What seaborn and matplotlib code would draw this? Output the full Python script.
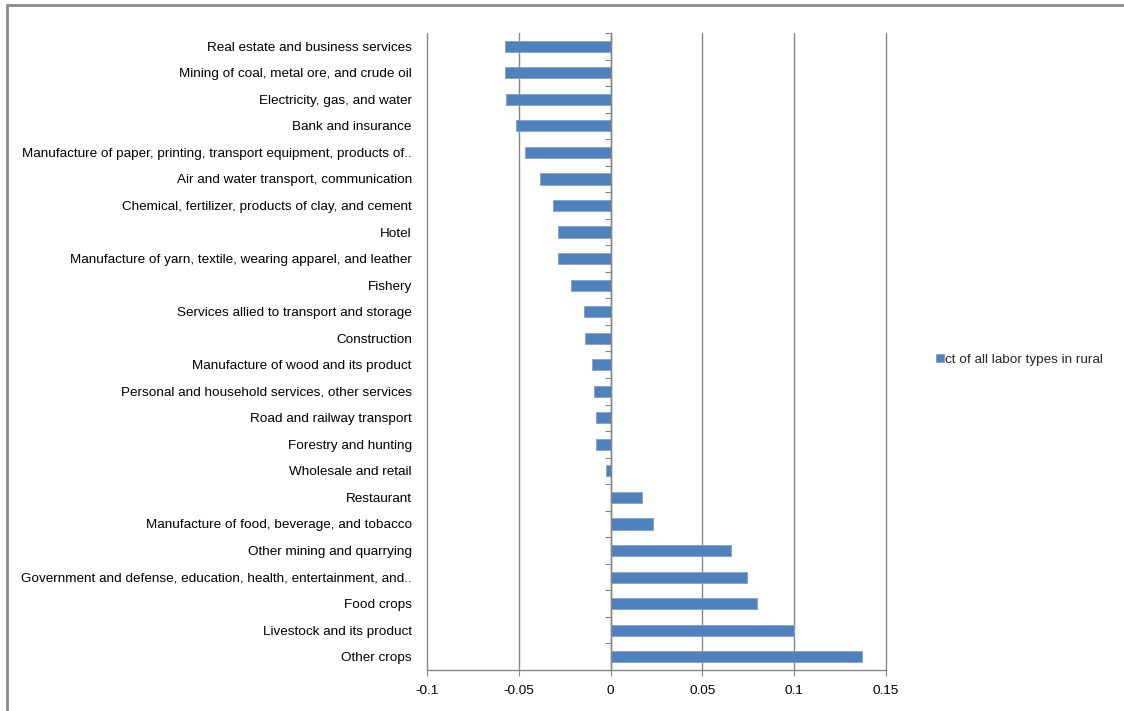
import matplotlib
matplotlib.use("Agg")
import matplotlib.pyplot as plt
import seaborn as sns
import pandas as pd
from matplotlib.lines import Line2D
from matplotlib import font_manager

categories = [
    "Real estate and business services",
    "Mining of coal, metal ore, and crude oil",
    "Electricity, gas, and water",
    "Bank and insurance",
    "Manufacture of paper, printing, transport equipment, products of..",
    "Air and water transport, communication",
    "Chemical, fertilizer, products of clay, and cement",
    "Hotel",
    "Manufacture of yarn, textile, wearing apparel, and leather",
    "Fishery",
    "Services allied to transport and storage",
    "Construction",
    "Manufacture of wood and its product",
    "Personal and household services, other services",
    "Road and railway transport",
    "Forestry and hunting",
    "Wholesale and retail",
    "Restaurant",
    "Manufacture of food, beverage, and tobacco",
    "Other mining and quarrying",
    "Government and defense, education, health, entertainment, and..",
    "Food crops",
    "Livestock and its product",
    "Other crops",
]
values = [
    -0.0576, -0.0576, -0.0569, -0.0513, -0.0464, -0.0382, -0.0313, -0.0288,
    -0.0288, -0.0214, -0.0145, -0.0138, -0.0100, -0.0089, -0.0082, -0.0082,
    -0.0025, 0.0174, 0.0230, 0.0657, 0.0746, 0.0797, 0.1000, 0.1372,
]
series_name = "ct of all labor types in rural"
x_ticks = [-0.1, -0.05, 0, 0.05, 0.1, 0.15]
x_tick_labels = ["-0.1", "-0.05", "0", "0.05", "0.1", "0.15"]

sns.set_style("white")
plt.rcParams["font.family"] = ["Liberation Sans", "DejaVu Sans"]
fs = 9.7

df = pd.DataFrame({"category": categories, "value": values, "series": series_name})

fig = plt.figure(figsize=(11.24, 7.11), dpi=100)
ax = fig.add_axes([0.380, 0.0577, 0.408, 0.8959])

bar_color = "#4F81BD"
grid_color = "#868686"

sns.barplot(data=df, x="value", y="category", hue="series", palette=[bar_color],
            orient="h", width=0.42, ax=ax, legend=True, edgecolor="#7FA3D0",
            linewidth=0.6, saturation=1)

ax.set_xlim(-0.1, 0.15)
ax.set_ylim(len(categories) - 0.5, -0.5)
ax.set_xticks(x_ticks)
ax.set_xticklabels(x_tick_labels)
ax.set_xlabel("")
ax.set_ylabel("")
ax.set_axisbelow(True)
ax.xaxis.grid(True, color=grid_color, linewidth=1.0)
for gl in ax.get_xgridlines():
    gl.set_clip_on(False)
ax.yaxis.grid(False)
for s in ["top", "right", "left"]:
    ax.spines[s].set_visible(False)
ax.spines["bottom"].set_color(grid_color)
ax.spines["bottom"].set_linewidth(1.0)
ax.tick_params(axis="x", length=4, color=grid_color, direction="out",
               labelsize=fs, pad=7, bottom=True, labelcolor="#000000")
ax.tick_params(axis="y", length=0, labelsize=fs, pad=11, labelcolor="#000000")

# vertical category axis crossing at zero with tick marks between categories
ax2 = ax.twinx()
ax2.set_ylim(ax.get_ylim())
ax2.spines["right"].set_position(("data", 0))
for s in ["top", "left", "bottom"]:
    ax2.spines[s].set_visible(False)
ax2.spines["right"].set_color(grid_color)
ax2.spines["right"].set_linewidth(1.0)
ax2.set_yticks([i + 0.5 for i in range(-1, len(categories))])
ax2.set_yticklabels([])
ax2.tick_params(axis="y", direction="in", length=4, color=grid_color)

handles, labels = ax.get_legend_handles_labels()
leg = ax.legend(handles, labels, loc="center left", bbox_to_anchor=(0.833, 0.494),
                bbox_transform=fig.transFigure, frameon=False, fontsize=fs,
                handlelength=0.55, handleheight=0.55, handletextpad=0.1,
                borderpad=0, borderaxespad=0)

# outer chart border (partially visible)
fig.add_artist(Line2D([0.0065, 0.0065], [0.0, 0.993], transform=fig.transFigure,
                      color="#8c8c8c", linewidth=2))
fig.add_artist(Line2D([0.0065, 1.0], [0.993, 0.993], transform=fig.transFigure,
                      color="#8c8c8c", linewidth=2))

fig.savefig("out.png", dpi=100)
